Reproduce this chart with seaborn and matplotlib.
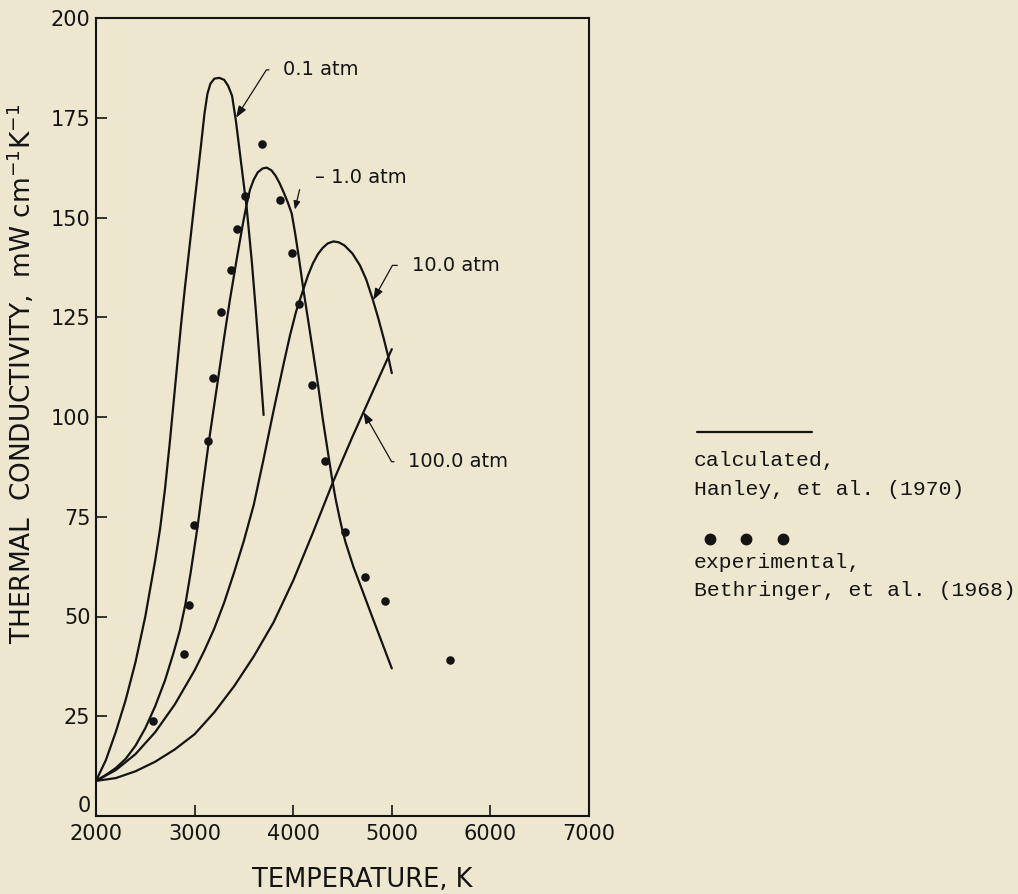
import matplotlib
matplotlib.use("Agg")
import matplotlib.pyplot as plt
from matplotlib.lines import Line2D
import pandas as pd
import seaborn as sns

# ----------------------------
# Data
# ----------------------------
# calculated curves (Hanley et al. 1970), temperature in K, conductivity in mW cm^-1 K^-1
T_01 = [2000, 2100, 2200, 2300, 2400, 2500, 2600, 2650, 2700, 2750, 2800, 2862, 2900,
        3000, 3060, 3100, 3130, 3160, 3200, 3250, 3300, 3340, 3380, 3420, 3470, 3528,
        3580, 3620, 3660, 3700]
k_01 = [8.8, 14, 21, 29, 38.5, 50, 64, 72, 82, 94, 107, 123, 132,
        154, 167, 176, 181, 183.5, 184.8, 185, 184.5, 183, 180.5, 174, 164, 152.5,
        139, 127, 114, 100.5]

T_1 = [2000, 2100, 2200, 2300, 2400, 2500, 2600, 2700, 2784, 2850, 2906, 2960, 3030,
       3080, 3140, 3190, 3241, 3300, 3359, 3430, 3494, 3530, 3562, 3600, 3640, 3690,
       3732, 3780, 3820, 3860, 3900, 3945, 3985, 4020, 4060, 4103, 4150, 4200, 4255,
       4300, 4350, 4391, 4430, 4468, 4500, 4532, 4610, 4694, 4800, 4900, 5000]
k_1 = [8.8, 10.3, 12, 14.3, 17.6, 22, 27.5, 34, 40.7, 46.5, 53, 61, 72.5,
       82, 93, 101.5, 110, 120, 129.5, 140, 149, 153.5, 157, 159.5, 161.3, 162.3,
       162.5, 161.8, 160.5, 158.7, 156.5, 153.8, 151, 146, 139.5, 132, 124.5, 116.5, 107.5,
       99.5, 91.5, 85, 79.5, 75, 71.5, 68.5, 62.5, 57, 50, 43.5, 37]

T_10 = [2000, 2200, 2400, 2600, 2800, 3000, 3100, 3200, 3300, 3400, 3500, 3600, 3700,
        3800, 3900, 3968, 4030, 4103, 4150, 4200, 4250, 4300, 4350, 4407, 4460, 4520,
        4600, 4677, 4740, 4800, 4860, 4920, 4965, 5000]
k_10 = [8.8, 11.5, 15.5, 21, 28, 36.5, 41.5, 47, 53.5, 61, 69, 78, 89.5,
        101.5, 113, 120.5, 126.5, 132, 135.5, 138.5, 140.8, 142.4, 143.5, 144, 143.8, 143,
        141, 138, 134.5, 130, 125, 119.5, 115, 111]

T_100 = [2000, 2200, 2400, 2600, 2800, 3000, 3200, 3400, 3600, 3800, 4000, 4200,
         4400, 4600, 4800, 5000]
k_100 = [8.8, 9.5, 11.2, 13.6, 16.7, 20.5, 26, 32.5, 40, 48.5, 59, 71,
         83.5, 95, 106, 117]

# experimental points (Bethringer et al. 1968)
T_exp = [2580, 2896, 2940, 2997, 3140, 3190, 3268, 3372, 3435, 3508, 3680, 3866,
         3990, 4062, 4187, 4322, 4529, 4732, 4935, 5590]
k_exp = [23.8, 40.7, 53.0, 72.9, 94.0, 109.8, 126.3, 136.8, 147.2, 155.3, 168.5, 154.5,
         141.1, 128.3, 108.1, 88.9, 71.2, 60.0, 53.9, 39.2]

x_ticks = [2000, 3000, 4000, 5000, 6000, 7000]
y_ticks = [0, 25, 50, 75, 100, 125, 150, 175, 200]

# ----------------------------
# Style
# ----------------------------
BG = "#ece7ce"
INK = "#141414"
sns.set_style("ticks")
plt.rcParams["font.family"] = ["DejaVu Sans"]
plt.rcParams["axes.facecolor"] = BG
plt.rcParams["figure.facecolor"] = BG

calc = pd.concat([
    pd.DataFrame({"T": T_01, "k": k_01, "p": "0.1 atm"}),
    pd.DataFrame({"T": T_1, "k": k_1, "p": "1.0 atm"}),
    pd.DataFrame({"T": T_10, "k": k_10, "p": "10.0 atm"}),
    pd.DataFrame({"T": T_100, "k": k_100, "p": "100.0 atm"}),
], ignore_index=True)
expt = pd.DataFrame({"T": T_exp, "k": k_exp})

fig = plt.figure(figsize=(10.18, 8.94), dpi=100)
ax = fig.add_axes([96 / 1018, 78 / 894, 493 / 1018, 798 / 894])

sns.lineplot(data=calc, x="T", y="k", units="p", estimator=None, sort=False,
             color=INK, linewidth=1.6, ax=ax)
sns.scatterplot(data=expt, x="T", y="k", color=INK, s=38, edgecolor=INK,
                linewidth=0, ax=ax, zorder=3)

ax.set_xlim(2000, 7000)
ax.set_ylim(0, 200)
ax.set_xticks(x_ticks)
ax.set_yticks(y_ticks)
ax.tick_params(direction="in", length=8, width=1.2, colors=INK, labelsize=15)
ax.tick_params(axis="x", pad=6)
ax.tick_params(axis="y", pad=4)
# the "0" sits just above the corner, as in the original
ax.yaxis.get_major_ticks()[0].label1.set_verticalalignment("bottom")
for sp in ax.spines.values():
    sp.set_linewidth(1.5)
    sp.set_color(INK)

ax.set_xlabel("TEMPERATURE, K", fontsize=18.5, color=INK)
ax.xaxis.set_label_coords(0.54, -0.064)
ax.set_ylabel("THERMAL  CONDUCTIVITY,  mW cm$^{-1}$K$^{-1}$", fontsize=19, color=INK)
ax.yaxis.set_label_coords(-0.12, 0.554)

# curve labels with leaders
arrow_kw = dict(arrowstyle="-|>,head_length=0.5,head_width=0.18", color=INK, lw=0.9,
                shrinkA=8, shrinkB=0)
ax.annotate("0.1 atm", xy=(3420, 175), xytext=(3900, 187), fontsize=14, va="center",
            ha="left", color=INK,
            arrowprops=dict(connectionstyle="angle,angleA=180,angleB=57.6,rad=0",
                            relpos=(0, 0.5), **arrow_kw))
ax.annotate("– 1.0 atm", xy=(4020, 151), xytext=(4220, 160), fontsize=14, va="center",
            ha="left", color=INK)
ax.annotate("", xy=(4017, 152), xytext=(4065, 157),
            arrowprops=dict(arrowstyle="-|>,head_length=0.5,head_width=0.2", color=INK,
                            lw=0.9, shrinkA=0, shrinkB=0))
ax.annotate("10.0 atm", xy=(4811, 129.3), xytext=(5202, 138), fontsize=14, va="center",
            ha="left", color=INK,
            arrowprops=dict(connectionstyle="angle,angleA=180,angleB=61,rad=0",
                            relpos=(0, 0.5), **arrow_kw))
ax.annotate("100.0 atm", xy=(4711, 101.3), xytext=(5168, 88.8), fontsize=14, va="center",
            ha="left", color=INK,
            arrowprops=dict(connectionstyle="angle,angleA=180,angleB=-60.4,rad=0",
                            relpos=(0, 0.5), **arrow_kw))

# hand-drawn legend on the right
W, H = 1018, 894
fig.add_artist(Line2D([697 / W, 812 / W], [1 - 432 / H, 1 - 432 / H], color=INK, lw=1.6))
legend_lines = [
    (460, "calculated,"),
    (490, "Hanley, et al. (1970)"),
    (563, "experimental,"),
    (591, "Bethringer, et al. (1968)"),
]
for ypix, txt in legend_lines:
    fig.text(694 / W, 1 - ypix / H, txt, fontsize=15.4, family="Liberation Mono",
             va="center", ha="left", color=INK)
fig.add_artist(Line2D([710 / W, 746 / W, 783 / W], [1 - 539 / H] * 3, color=INK,
                      marker="o", markersize=7.5, linestyle="none"))

fig.savefig("out.png", dpi=100, facecolor=BG)
